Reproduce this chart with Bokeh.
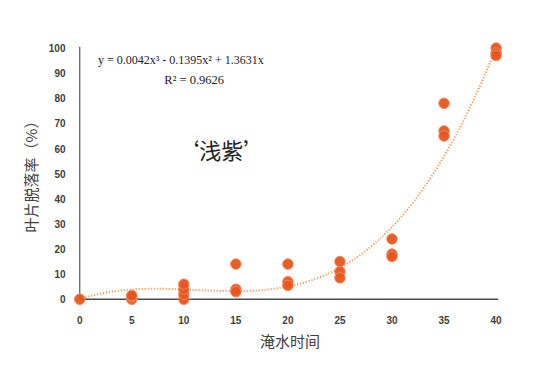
import numpy as np
from bokeh.plotting import figure
from bokeh.models import Range1d, Label, FixedTicker
from bokeh.embed import file_html
from bokeh.resources import INLINE

# data
times = [0, 5, 5, 5, 10, 10, 10, 10, 15, 15, 15, 20, 20, 20, 25, 25, 25, 30, 30, 30, 35, 35, 35, 40, 40, 40]
rates = [0, 0, 1, 1.5, 0, 2, 4, 6, 14, 4, 3, 14, 7, 5.5, 15, 11, 8.5, 24, 18, 17, 78, 67, 65, 100, 98, 97]
coef = [0.0042, -0.1395, 1.3631, 0.0]  # cubic trendline coefficients
x_ticks = [0, 5, 10, 15, 20, 25, 30, 35, 40]
y_ticks = [0, 10, 20, 30, 40, 50, 60, 70, 80, 90, 100]
eq_text = "y = 0.0042x³ - 0.1395x² + 1.3631x"
r2_text = "R² = 0.9626"
cultivar = "‘浅紫’"
x_title = "淹水时间"
y_title = "叶片脱落率（%）"

p = figure(width=533, height=382, output_backend="svg", toolbar_location=None,
           x_range=Range1d(-0.6, 41.0), y_range=Range1d(-2.5, 103),
           min_border_left=73, min_border_right=27, min_border_top=40, min_border_bottom=77)
p.outline_line_color = None
p.grid.grid_line_color = None
p.background_fill_color = "white"

for ax in (p.xaxis[0], p.yaxis[0]):
    ax.axis_line_color = None
    ax.major_tick_line_color = None
    ax.minor_tick_line_color = None
    ax.major_label_text_font = "Liberation Sans"
    ax.major_label_text_font_style = "bold"
    ax.major_label_text_font_size = "10px"
    ax.major_label_text_color = "#404040"
    ax.axis_label_text_font = "Noto Sans CJK SC"
    ax.axis_label_text_font_style = "normal"
    ax.axis_label_text_font_size = "15px"
    ax.axis_label_text_color = "#404040"

p.xaxis.ticker = FixedTicker(ticks=x_ticks)
p.yaxis.ticker = FixedTicker(ticks=y_ticks)
p.xaxis.major_label_standoff = 4
p.yaxis.major_label_standoff = 2
p.xaxis.axis_label = x_title
p.yaxis.axis_label = y_title
p.xaxis.axis_label_standoff = 3
p.yaxis.axis_label_standoff = 5

# axis lines at data zero
p.segment(x0=[0], y0=[0], x1=[40.2], y1=[0], line_color="#4a4a4a", line_width=1.4)
p.segment(x0=[0], y0=[0], x1=[0], y1=[100.5], line_color="#595959", line_width=1.2)

# trendline
xs = np.linspace(0, 40, 200)
ys = np.polyval(coef, xs)
p.line(xs, ys, line_color="#F08A3C", line_width=2, line_dash="1 2")

# points
p.scatter(times, rates, size=10.5, fill_color="#E8541E", line_color="#F08A5A", line_width=1, fill_alpha=0.95)

p.add_layout(Label(x=1.75, y=95.2, text=eq_text, text_font="Liberation Serif", text_font_size="12px",
                   text_color="#222222", text_baseline="middle", text_align="left"))
p.add_layout(Label(x=11.0, y=87.3, text=r2_text, text_font="Liberation Serif", text_font_size="12.5px",
                   text_color="#222222", text_baseline="middle", text_align="center"))
p.add_layout(Label(x=13.6, y=60, text=cultivar, text_font="Noto Sans CJK SC", text_font_size="22px",
                   text_font_style="normal", text_color="#222222", text_baseline="middle", text_align="center"))

open("out.html", "w").write(file_html(p, INLINE))
